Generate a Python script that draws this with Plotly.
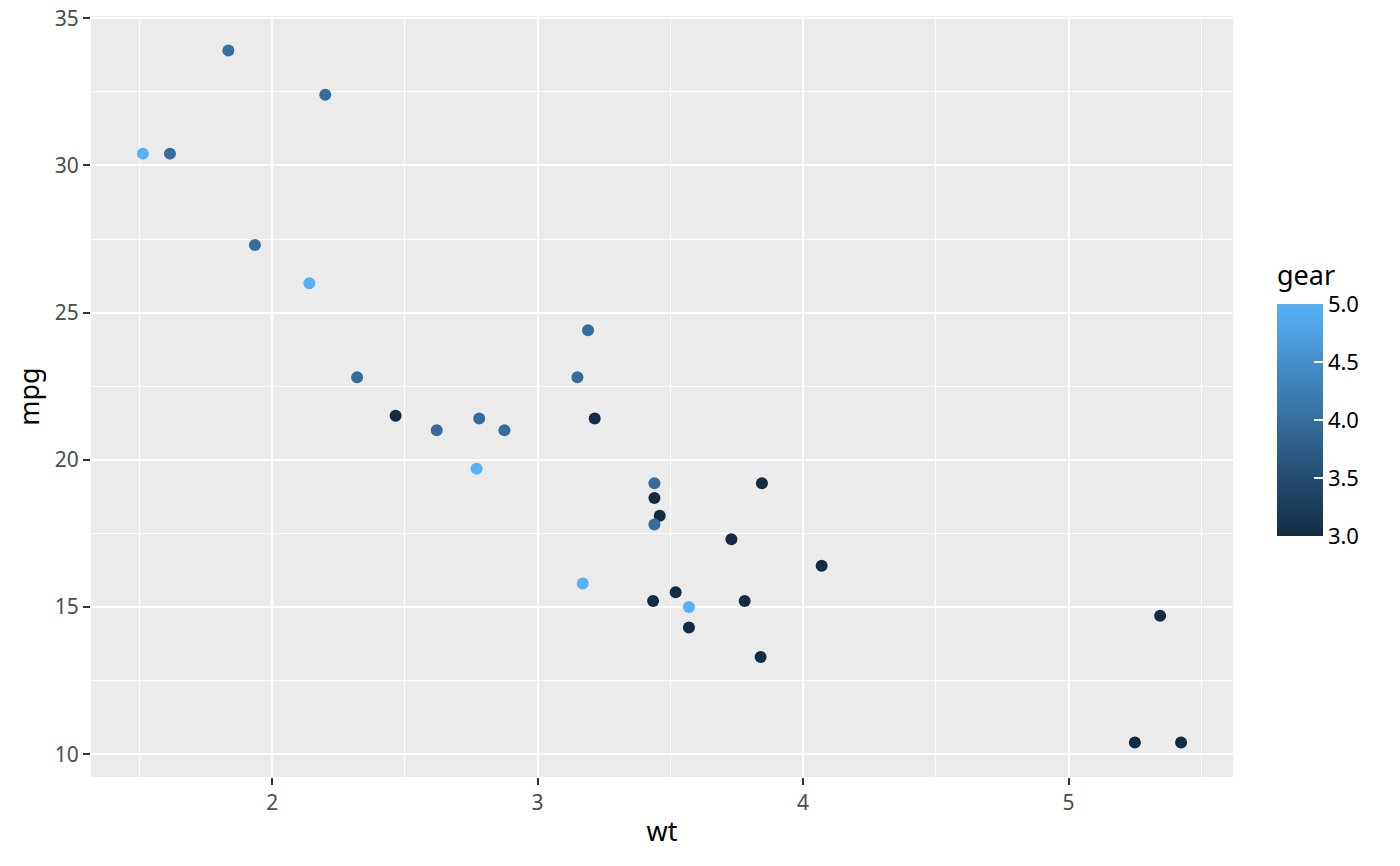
import plotly.graph_objects as go

wt = [2.620, 2.875, 2.320, 3.215, 3.440, 3.460, 3.570, 3.190, 3.150, 3.440, 3.440,
      4.070, 3.730, 3.780, 5.250, 5.424, 5.345, 2.200, 1.615, 1.835, 2.465, 3.520,
      3.435, 3.840, 3.845, 1.935, 2.140, 1.513, 3.170, 2.770, 3.570, 2.780]
mpg = [21.0, 21.0, 22.8, 21.4, 18.7, 18.1, 14.3, 24.4, 22.8, 19.2, 17.8,
       16.4, 17.3, 15.2, 10.4, 10.4, 14.7, 32.4, 30.4, 33.9, 21.5, 15.5,
       15.2, 13.3, 19.2, 27.3, 26.0, 30.4, 15.8, 19.7, 15.0, 21.4]
gear = [4, 4, 4, 3, 3, 3, 3, 4, 4, 4, 4,
        3, 3, 3, 3, 3, 3, 4, 4, 4, 3, 3,
        3, 3, 3, 4, 5, 5, 5, 5, 5, 4]
x_ticks = [2, 3, 4, 5]
y_ticks = [10, 15, 20, 25, 30, 35]
cbar_ticks = [3.0, 3.5, 4.0, 4.5, 5.0]

FONT = "Noto Sans"

W, H = 1400, 866
ML, MR, MT, MB = 91, 167, 16, 89
plot_h = H - MT - MB
plot_w = W - ML - MR

fig = go.Figure(go.Scatter(
    x=wt, y=mpg, mode="markers",
    marker=dict(
        size=12, color=gear, cmin=3, cmax=5,
        colorscale=[[0, "#132B43"], [1, "#56B1F7"]],
        line=dict(width=0),
        colorbar=dict(
            title=dict(text="gear", side="top", font=dict(size=27, color="#000000", family=FONT)),
            thickness=46, thicknessmode="pixels",
            len=274, lenmode="pixels",
            x=(1277 - ML) / plot_w, xanchor="left",
            y=(777 - 536) / plot_h, yanchor="bottom",
            xpad=0, ypad=0, outlinewidth=0,
            tickvals=cbar_ticks, ticktext=[f"{v:.1f}" for v in cbar_ticks],
            tickprefix="\u00a0\u00a0",
            ticks="inside", ticklen=9, tickcolor="white", tickwidth=1.5,
            tickfont=dict(size=22, color="#000000", family=FONT),
        ),
    ),
    hoverinfo="x+y",
))

fig.update_layout(
    width=W, height=H,
    margin=dict(l=ML, r=MR, t=MT, b=MB, autoexpand=False),
    paper_bgcolor="white", plot_bgcolor="#EBEBEB",
    font=dict(family=FONT),
    showlegend=False,
)
fig.update_xaxes(
    range=[1.3175, 5.6196], tickvals=x_ticks, ticktext=[str(v) for v in x_ticks],
    showgrid=True, gridcolor="white", gridwidth=2.2, zeroline=False,
    minor=dict(dtick=0.5, tick0=1.5, showgrid=True, gridcolor="white", gridwidth=1.1, ticks=""),
    ticks="outside", ticklen=7, tickcolor="#333333", tickwidth=2,
    tickfont=dict(size=21, color="#4D4D4D", family=FONT),
    title=dict(text="wt", font=dict(size=27, color="#000000", family=FONT), standoff=6),
    showline=False, automargin=False, ticklabeloverflow="allow",
)
fig.update_yaxes(
    range=[9.225, 35.075], tickvals=y_ticks, ticktext=[str(v) for v in y_ticks],
    showgrid=True, gridcolor="white", gridwidth=2.2, zeroline=False,
    minor=dict(dtick=5, tick0=12.5, showgrid=True, gridcolor="white", gridwidth=1.1, ticks=""),
    ticks="outside", ticklen=7, tickcolor="#333333", tickwidth=2,
    tickfont=dict(size=21, color="#4D4D4D", family=FONT),
    title=dict(text="mpg", font=dict(size=27, color="#000000", family=FONT), standoff=7),
    showline=False, automargin=False, ticklabeloverflow="allow",
)

# remove the browser's default 8px body margin so the figure sits at the page origin
fig.write_html("out.html", config={"displayModeBar": False},
               post_script="document.body.style.margin='0';")
